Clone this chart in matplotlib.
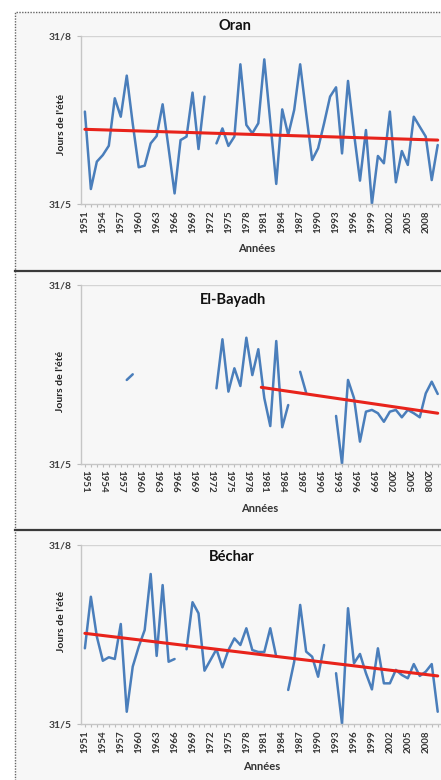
import numpy as np
import matplotlib.pyplot as plt
from matplotlib.lines import Line2D
from matplotlib.patches import Rectangle

plt.rcParams['font.family'] = ['Lato', 'DejaVu Sans']

nan = np.nan
years = list(range(1951, 2011))

# days after 31/5 (0 = 31/5, 92 = 31/8)
oran = [50.6, 8.2, 23.2, 26.8, 31.9, 57.9, 47.8, 70.3, 44.0, 20.1,
        21.0, 33.2, 37.2, 54.6, 30.5, 5.8, 35.0, 36.9, 61.0, 30.1,
        58.8, nan, 33.2, 41.4, 31.8, 36.9, 76.5, 43.3, 38.7, 44.2,
        79.2, 45.1, 11.0, 51.8, 37.8, 51.5, 76.5, 49.6, 24.1, 30.5,
        44.2, 58.8, 63.9, 27.7, 67.4, 38.7, 12.8, 40.5, 0.0, 26.3,
        22.3, 50.6, 11.9, 29.0, 21.4, 47.8, 42.3, 36.9, 13.1, 32.3]

bayadh = [nan, nan, nan, nan, nan, nan, nan, 43.2, 46.1, nan,
          nan, nan, nan, nan, nan, nan, nan, nan, nan, nan,
          nan, nan, 38.9, 64.1, 37.2, 49.2, 40.1, 64.9, 45.7, 59.0,
          33.9, 19.5, 63.2, 18.9, 30.3, nan, 47.4, 36.6, nan, nan,
          nan, nan, 24.7, 0.0, 43.2, 33.9, 11.5, 26.9, 27.8, 26.1,
          21.7, 26.9, 27.8, 24.0, 27.8, 26.1, 24.0, 36.3, 42.3, 36.0]

bechar = [38.9, 65.4, 44.9, 32.5, 34.3, 33.4, 51.4, 6.3, 29.5, 39.7,
          48.3, 77.1, 35.0, 71.4, 32.0, 33.4, nan, 38.4, 62.6, 56.9,
          27.4, 32.9, 38.4, 29.1, 38.0, 44.0, 40.6, 49.2, 38.0, 37.0,
          37.0, 49.2, 34.6, nan, 17.5, 32.0, 61.2, 37.2, 34.6, 24.3,
          40.6, nan, 26.1, 0.0, 59.5, 31.2, 36.0, 26.1, 17.8, 38.9,
          20.9, 20.9, 27.8, 25.2, 23.5, 30.8, 24.7, 26.9, 30.8, 6.3]

# linear trends (start, end)
trend_oran_x = [1951, 2010]
trend_oran_y = [40.9, 35.0]
trend_bayadh_x = [1980.5, 2010]
trend_bayadh_y = [39.4, 26.1]
trend_bechar_x = [1951, 2010]
trend_bechar_y = [46.6, 24.7]

ytick_vals = [0, 92]
ytick_labels = ['31/5', '31/8']
xtick_labels = [str(y) if (y - 1951) % 3 == 0 else '' for y in years]

W, H = 441, 780
fig = plt.figure(figsize=(W / 100, H / 100), dpi=100)
fig.patch.set_facecolor('white')

# grey frame with dotted edge
frame = Rectangle((15 / W, -0.01), 1.0, 1 - 12 / H + 0.01,
                  transform=fig.transFigure, facecolor='#f7f7f7',
                  edgecolor='#666666', linestyle=(0, (1, 1)), lw=1, zorder=-10)
fig.add_artist(frame)
for yy in [271, 530]:
    fig.add_artist(Line2D([15 / W, 1], [1 - yy / H] * 2, transform=fig.transFigure,
                          color='#3a3a3a', lw=1.6, zorder=-5))

panels = [
    # values, trend x, trend y, title, top, bottom, title pos, ylabel pos, xlabel pos, rot
    (oran, trend_oran_x, trend_oran_y, 'Oran', 36, 204, (235, 26), (62, 124), (257, 248), 90),
    (bayadh, trend_bayadh_x, trend_bayadh_y, 'El-Bayadh', 285, 464, (233, 300), (60, 381), (260, 508), 270),
    (bechar, trend_bechar_x, trend_bechar_y, 'Béchar', 545, 724, (232, 557), (62, 621), (262, 767), 90),
]

for vals, tx, ty, title, top, bot, tpos, ypos, xpos, rot in panels:
    ax = fig.add_axes([81 / W, 1 - bot / H, 1 - 81 / W, (bot - top) / H])
    ax.set_facecolor('none')
    ax.axhline(92, color='#d4d4d4', lw=1)
    ax.plot(years, vals, color='#4a7ebb', lw=1.8, solid_joinstyle='round',
            solid_capstyle='round', clip_on=False)
    ax.plot(tx, ty, color='#e8231b', lw=2.2, solid_capstyle='round')
    ax.set_xlim(1950.35, 2010.55)
    ax.set_ylim(0, 92)
    ax.set_yticks(ytick_vals, ytick_labels)
    ax.set_xticks(years, xtick_labels)
    for s in ['top', 'right']:
        ax.spines[s].set_visible(False)
    for s in ['left', 'bottom']:
        ax.spines[s].set_color('#c6c6c6')
        ax.spines[s].set_linewidth(1)
    ax.tick_params(axis='x', length=2.5, color='#bdbdbd', labelsize=7,
                   labelcolor='#333333', pad=2)
    ax.tick_params(axis='y', length=3, color='#bdbdbd', labelsize=7.5,
                   labelcolor='#404040', pad=4)
    for lab in ax.get_xticklabels():
        lab.set_rotation(rot)
        lab.set_fontweight('bold')
        lab.set_va('top')
        lab.set_ha('center')
    for lab in ax.get_yticklabels():
        lab.set_fontweight('bold')

    fig.text(tpos[0] / W, 1 - tpos[1] / H, title, ha='center', va='center',
             fontsize=10.5, fontweight='bold', color='#111111')
    fig.text(ypos[0] / W, 1 - ypos[1] / H, "Jours de l'été", ha='center', va='center',
             rotation=90, fontsize=7.5, fontweight='bold', color='#222222')
    fig.text(xpos[0] / W, 1 - xpos[1] / H, 'Années', ha='center', va='center',
             fontsize=8, fontweight='bold', color='#333333')

fig.savefig('out.png', dpi=100)
